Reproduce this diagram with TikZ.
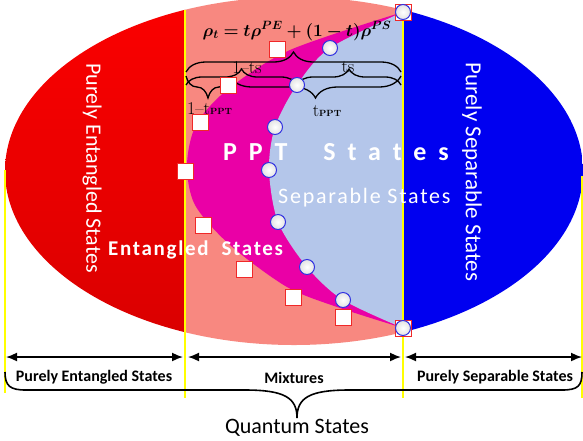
\documentclass[tikz,border=0pt]{standalone}
\usepackage{amsmath,bm}
\usepackage{fontspec}
\usetikzlibrary{decorations.pathreplacing,arrows.meta}
\newfontfamily\calibri{Carlito}
\newfontfamily\calibriA[LetterSpace=8]{Carlito}
\newfontfamily\calibriB[LetterSpace=46]{Carlito}
\definecolor{redA}{RGB}{252,0,0}
\definecolor{redB}{RGB}{216,0,0}
\definecolor{salmonC}{RGB}{248,136,128}
\definecolor{magentaC}{RGB}{234,0,166}
\definecolor{sepblue}{RGB}{180,198,234}
\definecolor{pureblue}{RGB}{0,0,240}
\definecolor{yel}{RGB}{255,255,0}
\definecolor{sqred}{RGB}{240,40,40}
\definecolor{cblue}{RGB}{50,50,225}
\tikzset{
  sqm/.style={draw=sqred, fill=white, minimum size=16pt, inner sep=0pt, line width=1pt},
  cim/.style={circle, draw=cblue, inner color=white, outer color=gray!22, minimum size=15pt, inner sep=0pt, line width=1pt},
  yline/.style={draw=yel, line width=2.6pt},
  darrow/.style={line width=1.6pt, {Latex[length=11pt,width=9pt]}-{Latex[length=11pt,width=9pt]}},
  brc/.style={decorate, line width=1.3pt, decoration={brace, amplitude=#1, aspect=0.5}},
  wlabel/.style={text=white, inner sep=0pt},
  blabel/.style={font=\calibri\bfseries\fontsize{16}{18}\selectfont, inner sep=0pt},
  slabel/.style={font=\fontsize{18}{20}\selectfont, inner sep=0pt}
}
\begin{document}
\begin{tikzpicture}[x=1pt,y=-1pt]
\clip (0,0) rectangle (583,440);
\fill[white] (0,0) rectangle (583,440);
% main ellipse parts
\begin{scope}
  \clip (294,171) ellipse [x radius=289pt, y radius=174pt];
  \shade[top color=redA, bottom color=redB] (0,-10) rectangle (185,360);
  \fill[salmonC] (185,-10) rectangle (403,360);
  \fill[pureblue] (403,-10) rectangle (590,360);
\end{scope}
% PPT region
\fill[magentaC] plot[smooth] coordinates {(403,12) (290,50) (227,90) (196,125) (187,165) (195,205) (230,245) (287,287) (340,308) (403,328)} -- cycle;
% separable region
\fill[sepblue] plot[smooth] coordinates {(403,12) (330,48) (297,85) (275,127) (269,170) (278,222) (307,267) (343,300) (403,328)} -- cycle;
% yellow lines
\coordinate (yl1) at (5,170);   \coordinate (yl2) at (5,393);
\coordinate (ym1) at (185,10);  \coordinate (ym2) at (185,398);
\coordinate (yn1) at (403,12);  \coordinate (yn2) at (403,398);
\coordinate (yr1) at (582,176); \coordinate (yr2) at (582,398);
\draw[yline] (yl1) -- (yl2);
\draw[yline] (ym1) -- (ym2);
\draw[yline] (yn1) -- (yn2);
\draw[yline] (yr1) -- (yr2);
% formula
\node[font=\fontsize{17.6}{21}\selectfont, inner sep=0pt] (formula) at (297,31) {$\bm{\rho_t = t\rho^{PE} + (1-t)\rho^{PS}}$};
% braces
\coordinate (bA1) at (186,72); \coordinate (bA2) at (401,72);
\draw[brc=20pt] (bA1) -- (bA2);
\coordinate (bB1) at (186,85); \coordinate (bB2) at (297,85); \coordinate (bB3) at (401,85);
\draw[brc=16pt] (bB1) -- (bB2);
\draw[brc=16pt] (bB2) -- (bB3);
\coordinate (bC1) at (186,76); \coordinate (bC2) at (230,76); \coordinate (bC3) at (401,76);
\draw[brc=22pt] (bC2) -- (bC1);
\draw[brc=22pt] (bC3) -- (bC2);
\node[slabel, anchor=base] (l1ts) at (247,73) {1--ts};
\node[slabel, anchor=base] (lts) at (348,72) {ts};
\node[slabel, anchor=base west] (l1tp) at (187,114) {1--t{\fontsize{9}{10}\selectfont\bfseries PPT}};
\node[slabel, anchor=base] (ltp) at (327,116) {t{\fontsize{9}{10}\selectfont\bfseries PPT}};
% region texts
\node[wlabel, rotate=-90, font=\calibri\fontsize{22}{26}\selectfont] (tpe) at (92,168) {Purely Entangled States};
\node[wlabel, rotate=-90, font=\calibri\fontsize{23}{26}\selectfont] (tps) at (472,172) {Purely Separable States};
\node[wlabel, anchor=base west, font=\calibriB\bfseries\fontsize{26}{30}\selectfont] (tppt) at (223,160) {PPT\ \ States};
\node[wlabel, anchor=base west, font=\calibriA\fontsize{22}{26}\selectfont] (tsep) at (278,203) {Separable States};
\node[wlabel, anchor=base west, font=\calibriA\bfseries\fontsize{21}{26}\selectfont] (tent) at (108,255) {Entangled\ \ States};
% markers
\node[sqm] (s1) at (277,49) {};
\node[sqm] (s2) at (228,85) {};
\node[sqm] (s3) at (200,122) {};
\node[sqm] (s4) at (185,171) {};
\node[sqm] (s5) at (203,225) {};
\node[sqm] (s6) at (244,269) {};
\node[sqm] (s7) at (293,297) {};
\node[sqm] (s8) at (343,317) {};
\node[sqm] (s9) at (403,12) {};
\node[sqm] (s10) at (403,328) {};
\node[cim] (c1) at (330,48) {};
\node[cim] (c2) at (297,85) {};
\node[cim] (c3) at (275,127) {};
\node[cim] (c4) at (269,170) {};
\node[cim] (c5) at (278,222) {};
\node[cim] (c6) at (307,267) {};
\node[cim] (c7) at (343,300) {};
\node[cim] (c8) at (403,12) {};
\node[cim] (c9) at (403,328) {};
% bottom arrows
\coordinate (a1) at (6,357);   \coordinate (a2) at (183,357);
\coordinate (a3) at (188,357); \coordinate (a4) at (401,357);
\coordinate (a5) at (405,357); \coordinate (a6) at (582,357);
\draw[darrow] (a1) -- (a2);
\draw[darrow] (a3) -- (a4);
\draw[darrow] (a5) -- (a6);
\node[blabel] (lpe) at (94,377) {Purely Entangled States};
\node[blabel] (lmix) at (294,378) {Mixtures};
\node[blabel] (lps) at (495,377) {Purely Separable States};
% big brace
\coordinate (bb1) at (5,372); \coordinate (bbt) at (297,418); \coordinate (bb2) at (582,372);
\draw[line width=1.6pt] (bb1) .. controls (5,386) and (10,390) .. (26,390) -- (245,390) .. controls (285,390) and (297,398) .. (bbt) .. controls (297,398) and (309,390) .. (349,390) -- (562,390) .. controls (578,390) and (582,386) .. (bb2);
\node[font=\calibri\fontsize{22}{26}\selectfont, inner sep=0pt] (qs) at (297,428) {Quantum States};
\end{tikzpicture}
\end{document}
